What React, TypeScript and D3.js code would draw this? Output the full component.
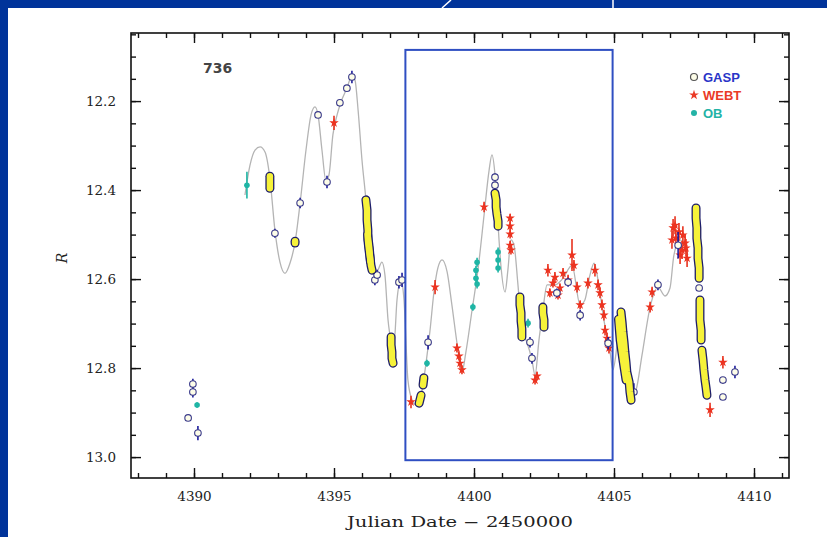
import React, { useRef, useEffect } from 'react';
import * as d3 from 'd3';

// [day, R, err]  (day = JD - 2450000)
const gaspPoints: number[][] = [
  [4389.79, 12.912, 0], [4389.96, 12.836, 0.012], [4389.96, 12.854, 0.012], [4390.14, 12.946, 0.016],
  [4392.89, 12.497, 0.01], [4393.79, 12.429, 0.012], [4394.43, 12.231, 0.006], [4394.75, 12.382, 0.014],
  [4395.21, 12.204, 0.006], [4395.46, 12.171, 0.006], [4395.64, 12.146, 0.014], [4396.46, 12.602, 0.012],
  [4396.54, 12.591, 0.012], [4397.32, 12.607, 0.014], [4397.43, 12.602, 0.016], [4398.36, 12.742, 0.016],
  [4400.75, 12.371, 0.008], [4400.75, 12.389, 0.008], [4402.0, 12.742, 0.012], [4402.07, 12.778, 0.012],
  [4402.96, 12.631, 0.01], [4403.36, 12.607, 0.01], [4403.79, 12.681, 0.012], [4404.79, 12.744, 0.014],
  [4405.71, 12.854, 0.02], [4406.57, 12.613, 0.012], [4407.29, 12.524, 0.03], [4408.04, 12.62, 0],
  [4408.89, 12.827, 0], [4409.32, 12.809, 0.014], [4408.89, 12.865, 0],
];

// dense GASP runs (yellow), one array per night
const gaspRuns: number[][][] = [
  [[4392.71, 12.369], [4392.71, 12.378], [4392.71, 12.387], [4392.71, 12.396]],
  [[4393.61, 12.515], [4393.61, 12.519]],
  [[4396.14, 12.422], [4396.18, 12.445], [4396.18, 12.467], [4396.21, 12.49], [4396.21, 12.512],
    [4396.25, 12.535], [4396.29, 12.553], [4396.32, 12.569], [4396.36, 12.58]],
  [[4396.2, 12.5], [4396.26, 12.53], [4396.3, 12.56]],
  [[4397.04, 12.73], [4397.04, 12.748], [4397.07, 12.764], [4397.07, 12.778], [4397.11, 12.789]],
  [[4398.04, 12.879], [4398.11, 12.861]],
  [[4398.18, 12.838], [4398.21, 12.822]],
  [[4400.75, 12.407], [4400.79, 12.422], [4400.79, 12.438], [4400.82, 12.454], [4400.86, 12.47], [4400.86, 12.481]],
  [[4401.64, 12.64], [4401.64, 12.658], [4401.68, 12.676], [4401.68, 12.694], [4401.71, 12.712], [4401.71, 12.73]],
  [[4402.46, 12.663], [4402.46, 12.676], [4402.5, 12.692], [4402.5, 12.708]],
  [[4405.25, 12.674], [4405.29, 12.697], [4405.32, 12.719], [4405.36, 12.742], [4405.39, 12.764],
    [4405.43, 12.787], [4405.46, 12.809], [4405.54, 12.831], [4405.57, 12.854], [4405.61, 12.872]],
  [[4405.16, 12.69], [4405.22, 12.737], [4405.32, 12.782], [4405.43, 12.827]],
  [[4407.93, 12.44], [4407.93, 12.463], [4407.96, 12.485], [4407.96, 12.508], [4408.0, 12.53],
    [4408.0, 12.553], [4408.04, 12.575], [4408.04, 12.598]],
  [[4408.07, 12.647], [4408.07, 12.67], [4408.07, 12.692], [4408.11, 12.715], [4408.11, 12.737]],
  [[4408.14, 12.76], [4408.18, 12.782], [4408.21, 12.804], [4408.25, 12.827], [4408.29, 12.845], [4408.32, 12.861]],
];

const webtPoints: number[][] = [
  [4395.0, 12.249, 0.016], [4397.75, 12.876, 0.014], [4398.61, 12.618, 0.016],
  [4399.39, 12.755, 0.01], [4399.46, 12.773, 0.01], [4399.5, 12.789, 0.01], [4399.57, 12.804, 0.01],
  [4400.36, 12.438, 0.012], [4401.29, 12.463, 0.01], [4401.29, 12.481, 0.01], [4401.29, 12.499, 0.01],
  [4401.29, 12.524, 0.01], [4401.32, 12.535, 0.01], [4402.18, 12.827, 0.01], [4402.25, 12.818, 0.01],
  [4402.64, 12.58, 0.014], [4402.71, 12.631, 0.01], [4402.82, 12.609, 0.01], [4402.89, 12.596, 0.012],
  [4403.0, 12.636, 0.01], [4403.07, 12.62, 0.01], [4403.18, 12.587, 0.012], [4403.36, 12.602, 0.012],
  [4403.5, 12.546, 0.036], [4403.57, 12.569, 0.012], [4403.68, 12.618, 0.012], [4403.79, 12.658, 0.01],
  [4404.07, 12.609, 0.012], [4404.32, 12.58, 0.014], [4404.43, 12.613, 0.012], [4404.5, 12.631, 0.012],
  [4404.57, 12.658, 0.012], [4404.64, 12.681, 0.012], [4404.68, 12.715, 0.012], [4404.75, 12.733, 0.012],
  [4404.82, 12.755, 0.012], [4406.29, 12.663, 0.012], [4406.36, 12.629, 0.012],
  [4407.07, 12.512, 0.02], [4407.11, 12.485, 0.02], [4407.18, 12.479, 0.02], [4407.21, 12.508, 0.02],
  [4407.32, 12.494, 0.02], [4407.36, 12.546, 0.02], [4407.43, 12.535, 0.02], [4407.46, 12.501, 0.02],
  [4407.54, 12.519, 0.02], [4407.57, 12.53, 0.02], [4407.61, 12.553, 0.02],
  [4408.43, 12.894, 0.016], [4408.89, 12.787, 0.014],
];

const obPoints: number[][] = [
  [4391.89, 12.389, 0.03], [4390.11, 12.883, 0.006], [4398.32, 12.789, 0.008], [4399.96, 12.663, 0.008],
  [4400.07, 12.58, 0.01], [4400.11, 12.562, 0.01], [4400.07, 12.598, 0.01], [4400.11, 12.611, 0.01],
  [4400.86, 12.539, 0.01], [4400.86, 12.557, 0.01], [4400.86, 12.575, 0.01], [4401.93, 12.699, 0.01],
];

// spline knots of the gray curve
const splineKnots: number[][] = [
  [4391.82, 12.411], [4392.0, 12.344], [4392.18, 12.31], [4392.36, 12.303], [4392.54, 12.315],
  [4392.71, 12.373], [4392.89, 12.49], [4393.07, 12.562], [4393.25, 12.587], [4393.43, 12.564],
  [4393.61, 12.517], [4393.79, 12.429], [4394.0, 12.31], [4394.18, 12.231], [4394.32, 12.213],
  [4394.43, 12.231], [4394.57, 12.31], [4394.71, 12.378], [4394.82, 12.366], [4394.96, 12.276],
  [4395.11, 12.231], [4395.25, 12.202], [4395.46, 12.171], [4395.64, 12.144], [4395.75, 12.153],
  [4395.86, 12.22], [4396.0, 12.333], [4396.14, 12.422], [4396.29, 12.546], [4396.43, 12.591],
  [4396.57, 12.58], [4396.71, 12.562], [4396.82, 12.591], [4396.93, 12.692], [4397.04, 12.737],
  [4397.14, 12.748], [4397.25, 12.647], [4397.39, 12.602], [4397.5, 12.647], [4397.64, 12.827],
  [4397.79, 12.872], [4397.93, 12.883], [4398.11, 12.861], [4398.29, 12.787], [4398.43, 12.715],
  [4398.57, 12.629], [4398.71, 12.575], [4398.86, 12.557], [4399.04, 12.584], [4399.21, 12.658],
  [4399.43, 12.76], [4399.57, 12.809], [4399.71, 12.764], [4399.93, 12.67], [4400.14, 12.58],
  [4400.36, 12.456], [4400.54, 12.355], [4400.64, 12.321], [4400.75, 12.366], [4400.86, 12.479],
  [4400.96, 12.569], [4401.11, 12.629], [4401.21, 12.58], [4401.32, 12.512], [4401.43, 12.524],
  [4401.57, 12.613], [4401.71, 12.715], [4401.89, 12.742], [4402.07, 12.782], [4402.18, 12.816],
  [4402.32, 12.737], [4402.46, 12.67], [4402.61, 12.613], [4402.89, 12.613], [4403.18, 12.598],
  [4403.5, 12.569], [4403.79, 12.658], [4403.96, 12.647], [4404.14, 12.591], [4404.29, 12.564],
  [4404.43, 12.602], [4404.64, 12.692], [4404.86, 12.764], [4404.96, 12.804], [4405.11, 12.748],
  [4405.25, 12.674], [4405.43, 12.771], [4405.61, 12.867], [4405.79, 12.849], [4406.0, 12.771],
  [4406.29, 12.663], [4406.57, 12.618], [4406.82, 12.638], [4407.0, 12.62], [4407.14, 12.546],
  [4407.36, 12.512], [4407.64, 12.546],
];

const xMajor = [4390, 4395, 4400, 4405, 4410];
const xMinor = d3.range(4388, 4412, 1);
const yMajor = [12.2, 12.4, 12.6, 12.8, 13.0];
const yMinor = d3.range(12.05, 13.05, 0.05);
const zoomBox = { x0: 4397.55, x1: 4404.95, y0: 12.085, y1: 13.007 };

const legendItems = [
  { name: 'GASP', color: '#2a35c8' },
  { name: 'WEBT', color: '#ea3a26' },
  { name: 'OB', color: '#23b3a6' },
];

export default function App() {
  const ref = useRef<SVGSVGElement>(null);

  useEffect(() => {
    const svg = d3.select(ref.current);
    svg.selectAll('*').remove();

    const W = 827, H = 537;
    const left = 131, right = 789, top = 33, bottom = 478;

    // slide background
    svg.append('rect').attr('width', W).attr('height', H).attr('fill', '#00339a');
    svg.append('rect').attr('x', 8).attr('y', 8).attr('width', W - 8).attr('height', H - 8).attr('fill', '#fff');
    svg.append('line').attr('x1', 613).attr('x2', 613).attr('y1', 0).attr('y2', 8).attr('stroke', '#fff').attr('stroke-width', 1.5);
    svg.append('line').attr('x1', 442).attr('x2', 451).attr('y1', 8).attr('y2', 0).attr('stroke', '#fff').attr('stroke-width', 1.5);

    const x = d3.scaleLinear().domain([4387.75, 4411.25]).range([left, right]);
    const y = d3.scaleLinear().domain([12.047, 13.047]).range([top, bottom]);

    const g = svg.append('g');

    // axes: ticks pointing inwards on all four sides
    const styleAxis = (sel: any) => {
      sel.select('.domain').remove();
      sel.selectAll('line').attr('stroke', '#111').attr('stroke-width', 1.4);
    };
    g.append('g').attr('transform', `translate(0,${bottom})`)
      .call(d3.axisBottom(x).tickValues(xMinor).tickSize(-5).tickFormat(() => '')).call(styleAxis);
    g.append('g').attr('transform', `translate(0,${top})`)
      .call(d3.axisTop(x).tickValues(xMinor).tickSize(-5).tickFormat(() => '')).call(styleAxis);
    g.append('g').attr('transform', `translate(${left},0)`)
      .call(d3.axisLeft(y).tickValues(yMinor).tickSize(-5).tickFormat(() => '')).call(styleAxis);
    g.append('g').attr('transform', `translate(${right},0)`)
      .call(d3.axisRight(y).tickValues(yMinor).tickSize(-5).tickFormat(() => '')).call(styleAxis);

    const xb = g.append('g').attr('transform', `translate(0,${bottom})`)
      .call(d3.axisBottom(x).tickValues(xMajor).tickSize(-10).tickPadding(13).tickFormat(d3.format('d')));
    xb.call(styleAxis);
    xb.selectAll('text').attr('font-family', 'DejaVu Serif').attr('font-size', 13.5).attr('fill', '#222');
    g.append('g').attr('transform', `translate(0,${top})`)
      .call(d3.axisTop(x).tickValues(xMajor).tickSize(-10).tickFormat(() => '')).call(styleAxis);
    const yl = g.append('g').attr('transform', `translate(${left},0)`)
      .call(d3.axisLeft(y).tickValues(yMajor).tickSize(-10).tickPadding(15).tickFormat(d3.format('.1f')));
    yl.call(styleAxis);
    yl.selectAll('text').attr('font-family', 'DejaVu Serif').attr('font-size', 13.5).attr('fill', '#222');
    g.append('g').attr('transform', `translate(${right},0)`)
      .call(d3.axisRight(y).tickValues(yMajor).tickSize(-10).tickFormat(() => '')).call(styleAxis);

    g.append('rect').attr('x', left).attr('y', top).attr('width', right - left).attr('height', bottom - top)
      .attr('fill', 'none').attr('stroke', '#111').attr('stroke-width', 1.6);

    // axis titles
    g.append('text').attr('x', 460).attr('y', 527).attr('text-anchor', 'middle')
      .attr('font-family', 'DejaVu Serif').attr('font-size', 14).attr('fill', '#222')
      .attr('textLength', 226).attr('lengthAdjust', 'spacingAndGlyphs')
      .text('Julian Date \u2212 2450000');
    g.append('text').attr('transform', 'translate(67,258) rotate(-90)').attr('text-anchor', 'middle')
      .attr('font-family', 'DejaVu Serif').attr('font-style', 'italic').attr('font-size', 14).attr('fill', '#222')
      .text('R');
    g.append('text').attr('x', 203).attr('y', 73).attr('font-family', 'DejaVu Sans').attr('font-size', 14)
      .attr('font-weight', 'bold').attr('fill', '#444').text('736');

    // spline
    const line = d3.line<number[]>().x(d => x(d[0])).y(d => y(d[1])).curve(d3.curveMonotoneX);
    g.append('path').datum(splineKnots).attr('d', line).attr('fill', 'none')
      .attr('stroke', '#b4b4b4').attr('stroke-width', 1.3);

    const errBars = (data: number[][], color: string) => {
      g.append('g').selectAll('line').data(data.filter(d => d[2] > 0)).enter().append('line')
        .attr('x1', d => x(d[0])).attr('x2', d => x(d[0]))
        .attr('y1', d => y(d[1] - d[2])).attr('y2', d => y(d[1] + d[2]))
        .attr('stroke', color).attr('stroke-width', 1.6);
    };

    // WEBT
    errBars(webtPoints, '#e8321e');
    const star = d3.symbol().type(d3.symbolStar).size(28);
    g.append('g').selectAll('path').data(webtPoints).enter().append('path')
      .attr('d', star as any).attr('transform', d => `translate(${x(d[0])},${y(d[1])})`)
      .attr('fill', '#ec3320');

    // OB
    errBars(obPoints, '#1fb5a5');
    g.append('g').selectAll('circle').data(obPoints).enter().append('circle')
      .attr('cx', d => x(d[0])).attr('cy', d => y(d[1])).attr('r', 2.8).attr('fill', '#1fb5a5');

    // GASP
    errBars(gaspPoints, '#1c1c9c');
    g.append('g').selectAll('circle').data(gaspPoints).enter().append('circle')
      .attr('cx', d => x(d[0])).attr('cy', d => y(d[1])).attr('r', 3.3)
      .attr('fill', '#fdfde8').attr('stroke', '#3a3a8a').attr('stroke-width', 1.1);

    // dense runs: overlapping circles merge into an outlined yellow band
    const runLine = d3.line<number[]>().x(d => x(d[0])).y(d => y(d[1]));
    const runs = g.append('g');
    runs.selectAll('path.o').data(gaspRuns).enter().append('path').attr('class', 'o')
      .attr('d', runLine).attr('fill', 'none').attr('stroke', '#1e1e6a')
      .attr('stroke-width', 9).attr('stroke-linecap', 'round').attr('stroke-linejoin', 'round');
    runs.selectAll('path.i').data(gaspRuns).enter().append('path').attr('class', 'i')
      .attr('d', runLine).attr('fill', 'none').attr('stroke', '#f6f23a')
      .attr('stroke-width', 6.4).attr('stroke-linecap', 'round').attr('stroke-linejoin', 'round');

    // zoom box
    g.append('rect').attr('x', x(zoomBox.x0)).attr('y', y(zoomBox.y0))
      .attr('width', x(zoomBox.x1) - x(zoomBox.x0)).attr('height', y(zoomBox.y1) - y(zoomBox.y0))
      .attr('fill', 'none').attr('stroke', '#2f4fc2').attr('stroke-width', 2);

    // legend
    const lg = g.append('g').attr('transform', 'translate(694,77)');
    legendItems.forEach((item, i) => {
      const row = lg.append('g').attr('transform', `translate(0,${i * 18})`);
      if (i === 0) {
        row.append('circle').attr('r', 3.5).attr('fill', '#fdfde8').attr('stroke', '#555').attr('stroke-width', 1.2);
      } else if (i === 1) {
        row.append('path').attr('d', d3.symbol().type(d3.symbolStar).size(30)() as string).attr('fill', item.color);
      } else {
        row.append('circle').attr('r', 3).attr('fill', item.color);
      }
      row.append('text').attr('x', 9).attr('y', 5).attr('font-family', 'Liberation Sans')
        .attr('font-weight', 'bold').attr('font-size', 13).attr('fill', item.color).text(item.name);
    });
  }, []);

  return (
    <svg ref={ref} width={827} height={537}
      style={{ position: 'absolute', left: 0, top: 0, display: 'block' }} />
  );
}
